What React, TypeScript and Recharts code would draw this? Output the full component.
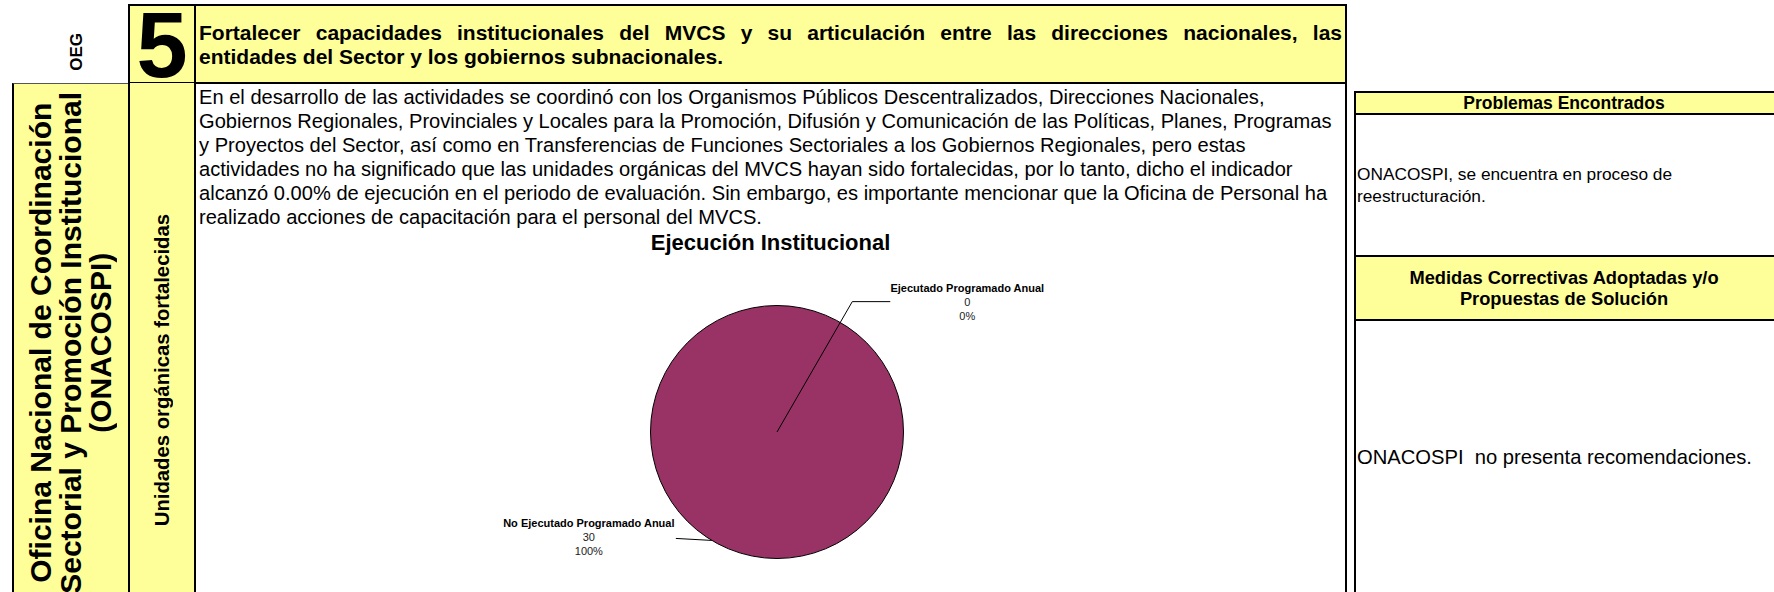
import React from 'react';
import { PieChart, Pie, Cell, Sector } from 'recharts';

// ---------- data ----------
const sliceNames: string[] = ['Ejecutado Programado Anual', 'No Ejecutado Programado Anual'];
const sliceValues: number[] = [0, 30];

const oegNumber = '5';
const oegTitleLines: string[] = [
  'Fortalecer capacidades institucionales del MVCS y su articulación entre las direcciones nacionales, las',
  'entidades del Sector y los gobiernos subnacionales.',
];
const unitLines: string[] = [
  'Oficina Nacional de Coordinación',
  'Sectorial y Promoción Institucional',
  '(ONACOSPI)',
];
const indicatorLabel = 'Unidades orgánicas fortalecidas';
const descriptionLines: string[] = [
  'En el desarrollo de las actividades se coordinó con los Organismos Públicos Descentralizados, Direcciones Nacionales,',
  'Gobiernos Regionales, Provinciales y Locales para la Promoción, Difusión y Comunicación de las Políticas, Planes, Programas',
  'y Proyectos del Sector, así como en Transferencias de Funciones Sectoriales a los Gobiernos Regionales, pero estas',
  'actividades no ha significado que las unidades orgánicas del MVCS hayan sido fortalecidas, por lo tanto, dicho el indicador',
  'alcanzó 0.00% de ejecución en el periodo de evaluación. Sin embargo, es importante mencionar que la Oficina de Personal ha',
  'realizado acciones de capacitación para el personal del MVCS.',
];
const chartTitle = 'Ejecución Institucional';
const problemsHeader = 'Problemas Encontrados';
const problemsLines: string[] = ['ONACOSPI, se encuentra en proceso de', 'reestructuración.'];
const measuresHeaderLines: string[] = ['Medidas Correctivas Adoptadas y/o', 'Propuestas de Solución'];
const measuresLines: string[] = ['ONACOSPI  no presenta recomendaciones.'];

const pieData = sliceNames.map((name, i) => ({ name, value: sliceValues[i] }));

// ---------- styles ----------
const FONT = '"Liberation Sans", Arial, sans-serif';
const YELLOW = '#FFFF99';
const PLUM = '#993366';

type BoxProps = {
  l: number; t: number; w: number; h: number;
  bg?: string; border?: string; style?: React.CSSProperties; children?: React.ReactNode;
};
const Box = ({ l, t, w, h, bg, border, style, children }: BoxProps) => (
  <div
    style={{
      position: 'absolute', left: l, top: t, width: w, height: h, boxSizing: 'border-box',
      background: bg, border, ...style,
    }}
  >
    {children}
  </div>
);

const RAD = Math.PI / 180;

const renderSlice = (props: any) => {
  const { cx, cy, outerRadius, startAngle, endAngle, fill } = props;
  const span = Math.abs(endAngle - startAngle);
  if (span < 0.01) return <g />;
  if (span > 359) {
    return <circle cx={cx} cy={cy} r={outerRadius} fill={fill} stroke="#000" strokeWidth={1} />;
  }
  return <Sector {...props} stroke="#000" strokeWidth={1} />;
};

const renderLabel = (props: any) => {
  const { cx, cy, midAngle, outerRadius, percent, value, name, index } = props;
  const pct = `${Math.round((percent || 0) * 100)}%`;
  if (index === 0) {
    const a = (midAngle - 30) * RAD;
    const r = outerRadius * 1.19;
    const ex = cx + r * Math.cos(a);
    const ey = cy - r * Math.sin(a);
    const tx = ex + 115;
    return (
      <g>
        <polyline points={`${cx},${cy} ${ex},${ey} ${ex + 38},${ey}`} fill="none" stroke="#000" strokeWidth={1} />
        <text x={tx} y={ey - 14} textAnchor="middle" dominantBaseline="central" fontFamily={FONT} fontSize={11} fontWeight="bold" fill="#000">{name}</text>
        <text x={tx} y={ey} textAnchor="middle" dominantBaseline="central" fontFamily={FONT} fontSize={11} fill="#222">{value}</text>
        <text x={tx} y={ey + 14} textAnchor="middle" dominantBaseline="central" fontFamily={FONT} fontSize={11} fill="#222">{pct}</text>
      </g>
    );
  }
  const a = (midAngle - 31) * RAD;
  const ex = cx + outerRadius * Math.cos(a);
  const ey = cy - outerRadius * Math.sin(a);
  const tx = ex - 123;
  return (
    <g>
      <polyline points={`${ex},${ey} ${ex - 36},${ey - 2}`} fill="none" stroke="#000" strokeWidth={1} />
      <text x={tx} y={ey - 17} textAnchor="middle" dominantBaseline="central" fontFamily={FONT} fontSize={11} fontWeight="bold" fill="#000">{name}</text>
      <text x={tx} y={ey - 3} textAnchor="middle" dominantBaseline="central" fontFamily={FONT} fontSize={11} fill="#222">{value}</text>
      <text x={tx} y={ey + 11} textAnchor="middle" dominantBaseline="central" fontFamily={FONT} fontSize={11} fill="#222">{pct}</text>
    </g>
  );
};

const rotatedText: React.CSSProperties = {
  writingMode: 'vertical-rl',
  transform: 'rotate(180deg)',
  textAlign: 'center',
  whiteSpace: 'nowrap',
};

export default function App() {
  return (
    <div style={{ position: 'absolute', left: 0, top: 0, width: 1774, height: 592, overflow: 'hidden', background: '#fff', fontFamily: FONT, color: '#000' }}>
      <style>{'body{margin:0}'}</style>

      {/* OEG label */}
      <div style={{ position: 'absolute', left: 58, top: 26, width: 38, height: 52, display: 'flex', alignItems: 'center', justifyContent: 'center' }}>
        <div style={{ ...rotatedText, fontSize: 17, fontWeight: 'bold', lineHeight: '20px' }}>OEG</div>
      </div>

      {/* number cell */}
      <Box l={128} t={4} w={68} h={80} bg={YELLOW} border="2px solid #000" />
      <svg style={{ position: 'absolute', left: 128, top: -14, overflow: 'visible' }} width={68} height={112}>
        <text x={34} y={91} textAnchor="middle" fontFamily={FONT} fontSize={92} fontWeight="bold" fill="#000">{oegNumber}</text>
      </svg>

      {/* title cell */}
      <Box l={194} t={4} w={1153} h={80} bg={YELLOW} border="2px solid #000"
        style={{ display: 'flex', flexDirection: 'column', justifyContent: 'center', padding: '2px 3px 0 3px' }}>
        <div style={{ fontSize: 21, fontWeight: 'bold', lineHeight: '24px', textAlign: 'justify', textAlignLast: 'justify' } as React.CSSProperties}>{oegTitleLines[0]}</div>
        <div style={{ fontSize: 21, fontWeight: 'bold', lineHeight: '24px', whiteSpace: 'nowrap' }}>{oegTitleLines[1]}</div>
      </Box>

      {/* unit cell */}
      <Box l={12} t={83} w={118} h={540} bg={YELLOW}
        style={{ borderLeft: '2px solid #000', borderRight: '2px solid #000', borderTop: '1px solid #555', display: 'flex', alignItems: 'center', justifyContent: 'center', paddingBottom: 22 }}>
        <div style={{ ...rotatedText, fontSize: 30, fontWeight: 'bold', lineHeight: '30px' }}>
          {unitLines.map((s, i) => (<React.Fragment key={i}>{s}{i < unitLines.length - 1 ? <br /> : null}</React.Fragment>))}
        </div>
      </Box>

      {/* indicator cell */}
      <Box l={128} t={83} w={68} h={560} bg={YELLOW}
        style={{ borderLeft: '2px solid #000', borderRight: '2px solid #000', display: 'flex', alignItems: 'center', justifyContent: 'center', paddingTop: 14 }}>
        <div style={{ ...rotatedText, fontSize: 20.3, fontWeight: 'bold', lineHeight: '22px' }}>{indicatorLabel}</div>
      </Box>

      {/* description cell */}
      <Box l={194} t={82} w={1153} h={152} bg="#fff" border="2px solid #000"
        style={{ padding: '1px 2px 0 3px' }}>
        {descriptionLines.map((s, i) => (
          <div key={i} style={{ fontSize: 20.1, lineHeight: '24px', whiteSpace: 'nowrap' }}>{s}</div>
        ))}
      </Box>

      {/* chart area */}
      <Box l={194} t={232} w={1153} h={380} bg="#fff"
        style={{ borderLeft: '2px solid #000', borderRight: '2px solid #000' }}>
        <div style={{ position: 'absolute', left: 0, top: 0, width: '100%', textAlign: 'center', fontSize: 22, fontWeight: 'bold', lineHeight: '22px' }}>{chartTitle}</div>
        <div style={{ position: 'absolute', left: -1, top: -1 }}>
          <PieChart width={1151} height={370} margin={{ top: 0, right: 0, bottom: 0, left: 0 }}>
            <Pie
              data={pieData}
              dataKey="value"
              nameKey="name"
              cx={582}
              cy={201}
              outerRadius={126.5}
              startAngle={90}
              endAngle={-270}
              stroke="#000"
              strokeWidth={1}
              label={renderLabel}
              labelLine={false}
              shape={renderSlice}
              activeShape={renderSlice}
              inactiveShape={renderSlice}
              isAnimationActive={false}
            >
              {pieData.map((d, i) => (<Cell key={i} fill={PLUM} />))}
            </Pie>
          </PieChart>
        </div>
      </Box>

      {/* right panel */}
      <Box l={1354} t={91} w={430} h={24} bg={YELLOW} border="2px solid #000"
        style={{ textAlign: 'center', paddingRight: 10 }}>
        <div style={{ fontSize: 17.5, fontWeight: 'bold', lineHeight: '20px' }}>{problemsHeader}</div>
      </Box>
      <Box l={1354} t={113} w={430} h={144} bg="#fff" border="2px solid #000"
        style={{ display: 'flex', flexDirection: 'column', justifyContent: 'center', paddingLeft: 1 }}>
        {problemsLines.map((s, i) => (<div key={i} style={{ fontSize: 17.3, lineHeight: '22px', whiteSpace: 'nowrap' }}>{s}</div>))}
      </Box>
      <Box l={1354} t={255} w={430} h={66} bg={YELLOW} border="2px solid #000"
        style={{ display: 'flex', flexDirection: 'column', justifyContent: 'center', alignItems: 'center', paddingRight: 10 }}>
        {measuresHeaderLines.map((s, i) => (<div key={i} style={{ fontSize: 18.3, fontWeight: 'bold', lineHeight: '21px', whiteSpace: 'nowrap' }}>{s}</div>))}
      </Box>
      <Box l={1354} t={319} w={430} h={276} bg="#fff" border="2px solid #000"
        style={{ display: 'flex', flexDirection: 'column', justifyContent: 'center', paddingLeft: 1 }}>
        {measuresLines.map((s, i) => (<div key={i} style={{ fontSize: 20.2, lineHeight: '24px', whiteSpace: 'pre' }}>{s}</div>))}
      </Box>
    </div>
  );
}
